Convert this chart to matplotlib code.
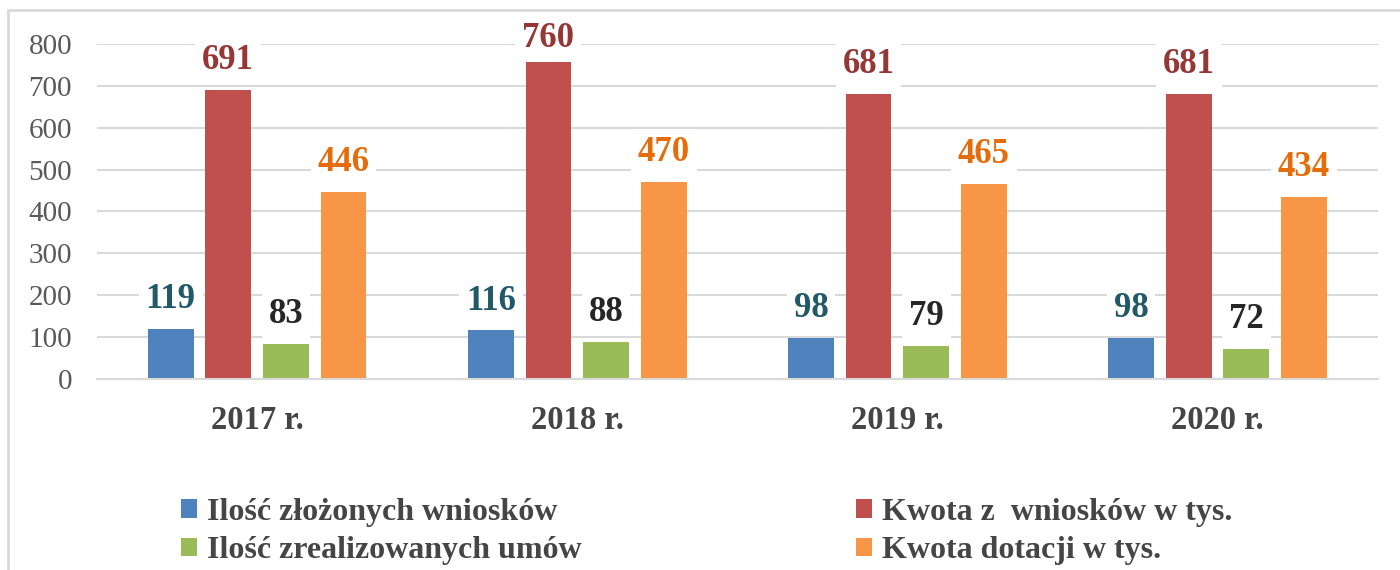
# -*- coding: utf-8 -*-
# Grouped bar chart: wnioski / umowy / kwoty 2017-2020

import numpy as np
import matplotlib.pyplot as plt
from matplotlib.patches import Rectangle

# ----------
# Chart data
# ----------

years = ["2017 r.", "2018 r.", "2019 r.", "2020 r."]
series_names = [
    "Ilość złożonych wniosków",
    "Kwota z  wniosków w tys.",
    "Ilość zrealizowanych umów",
    "Kwota dotacji w tys.",
]
wnioski = [119, 116, 98, 98]
kwota_wnioski = [691, 760, 681, 681]
umowy = [83, 88, 79, 72]
kwota_dotacji = [446, 470, 465, 434]

# ------
# Styles
# ------

bar_colors = ["#4F81BD", "#C0504D", "#9BBB59", "#F79646"]
label_colors = ["#215968", "#953735", "#262626", "#E46C0A"]
offsets = [-0.27, -0.09, 0.09, 0.27]
BAR_W = 0.143
SERIF = ["Liberation Serif", "DejaVu Serif"]

plt.rcParams["font.family"] = SERIF

fig = plt.figure(figsize=(14, 5.7), dpi=100)
ax = fig.add_axes([0.0693, 0.335, 0.9147, 0.588])

# light frame round the chart area
fig.patches.append(
    Rectangle((8 / 1400, -0.1), 1.2, 1 - 10 / 570 + 0.1, transform=fig.transFigure,
              fill=False, edgecolor="#D9D9D9", linewidth=2, zorder=0)
)

x = np.arange(len(years))
series = [wnioski, kwota_wnioski, umowy, kwota_dotacji]
handles = []
for vals, off, col, lcol, name in zip(series, offsets, bar_colors, label_colors, series_names):
    bars = ax.bar(x + off, vals, width=BAR_W, color=col, label=name, zorder=2)
    handles.append(bars)
    for xi, v in zip(x + off, vals):
        # labels near the top are kept inside the chart area, as in the original
        dy = 15 if v < 740 else 10
        ax.annotate(str(v), (xi, v), xytext=(0, dy), textcoords="offset points",
                    ha="center", va="baseline", fontsize=25, fontweight="bold",
                    color=lcol, zorder=4,
                    bbox=dict(boxstyle="square,pad=0.2", fc="white", ec="none"))

ax.set_xlim(-0.5, len(years) - 0.5)
ax.set_ylim(0, 800)
ax.set_yticks(range(0, 801, 100))
ax.yaxis.grid(True, color="#D9D9D9", linewidth=1.5, zorder=0)
ax.set_axisbelow(True)
for side in ("top", "right", "left"):
    ax.spines[side].set_visible(False)
ax.spines["bottom"].set_color("#D9D9D9")
ax.spines["bottom"].set_linewidth(1.5)
ax.tick_params(axis="both", length=0)
ax.tick_params(axis="y", labelsize=21, labelcolor="#595959", pad=18)
ax.tick_params(axis="x", pad=19)
ax.set_xticks(x)
ax.set_xticklabels(years, fontsize=23.5, fontweight="bold", color="#454545")

# legend: blue / red on first row, green / orange on second
order = [0, 2, 1, 3]
fig.legend([handles[i] for i in order], [series_names[i] for i in order],
           ncol=2, loc="upper left", bbox_to_anchor=(0.109, 0.177),
           frameon=False, handlelength=0.5, handleheight=0.5,
           handletextpad=0.3, columnspacing=8.6, labelspacing=0.3,
           prop=dict(family=SERIF, weight="bold", size=23),
           labelcolor="#454545")

fig.savefig("out.png", dpi=100, facecolor="white")
